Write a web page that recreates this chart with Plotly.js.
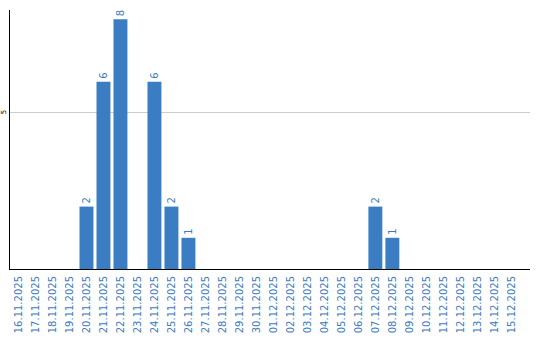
<!DOCTYPE html>
<html><head><meta charset="utf-8">
<script src="https://cdn.plot.ly/plotly-3.0.1.min.js"></script>
<style>html,body{margin:0;padding:0;background:#fff}#c{width:540px;height:340px}</style>
</head><body><div id="c"></div>
<script>
const dates = ["16.11.2025","17.11.2025","18.11.2025","19.11.2025","20.11.2025","21.11.2025","22.11.2025","23.11.2025","24.11.2025","25.11.2025","26.11.2025","27.11.2025","28.11.2025","29.11.2025","30.11.2025","01.12.2025","02.12.2025","03.12.2025","04.12.2025","05.12.2025","06.12.2025","07.12.2025","08.12.2025","09.12.2025","10.12.2025","11.12.2025","12.12.2025","13.12.2025","14.12.2025","15.12.2025"];
const counts = [0,0,0,0,2,6,8,0,6,2,1,0,0,0,0,0,0,0,0,0,0,2,1,0,0,0,0,0,0,0];
const labels = counts.map(v => v > 0 ? String(v) : "");

Plotly.newPlot("c", [{
  type: "bar",
  x: dates,
  y: counts,
  text: labels,
  textposition: "outside",
  textangle: -90,
  cliponaxis: false,
  textfont: {family: "DejaVu Sans", size: 10, color: "#3a7bbf"},
  marker: {color: "#3b7dc2"},
  hoverinfo: "none"
}], {
  width: 540, height: 340,
  margin: {l: 10, r: 10, t: 10, b: 71},
  paper_bgcolor: "#fff", plot_bgcolor: "#fff",
  bargap: 0.18,
  showlegend: false,
  xaxis: {
    type: "category",
    range: [-0.5, 30.1],
    tickangle: -90,
    tickfont: {family: "DejaVu Sans", size: 10, color: "#3a7bbf"},
    showline: true, linecolor: "#000", linewidth: 1,
    showgrid: false, ticks: "", ticklabelstandoff: 2
  },
  yaxis: {
    range: [0, 8.3],
    tickvals: [5], ticktext: ["5"],
    tickangle: -90,
    tickfont: {family: "DejaVu Sans", size: 7, color: "#000"},
    showline: true, linecolor: "#000", linewidth: 1,
    showgrid: true, gridcolor: "#cccccc", gridwidth: 1,
    zeroline: false, ticks: "", ticklabelstandoff: 0
  }
}, {displayModeBar: false, staticPlot: true});
</script></body></html>
